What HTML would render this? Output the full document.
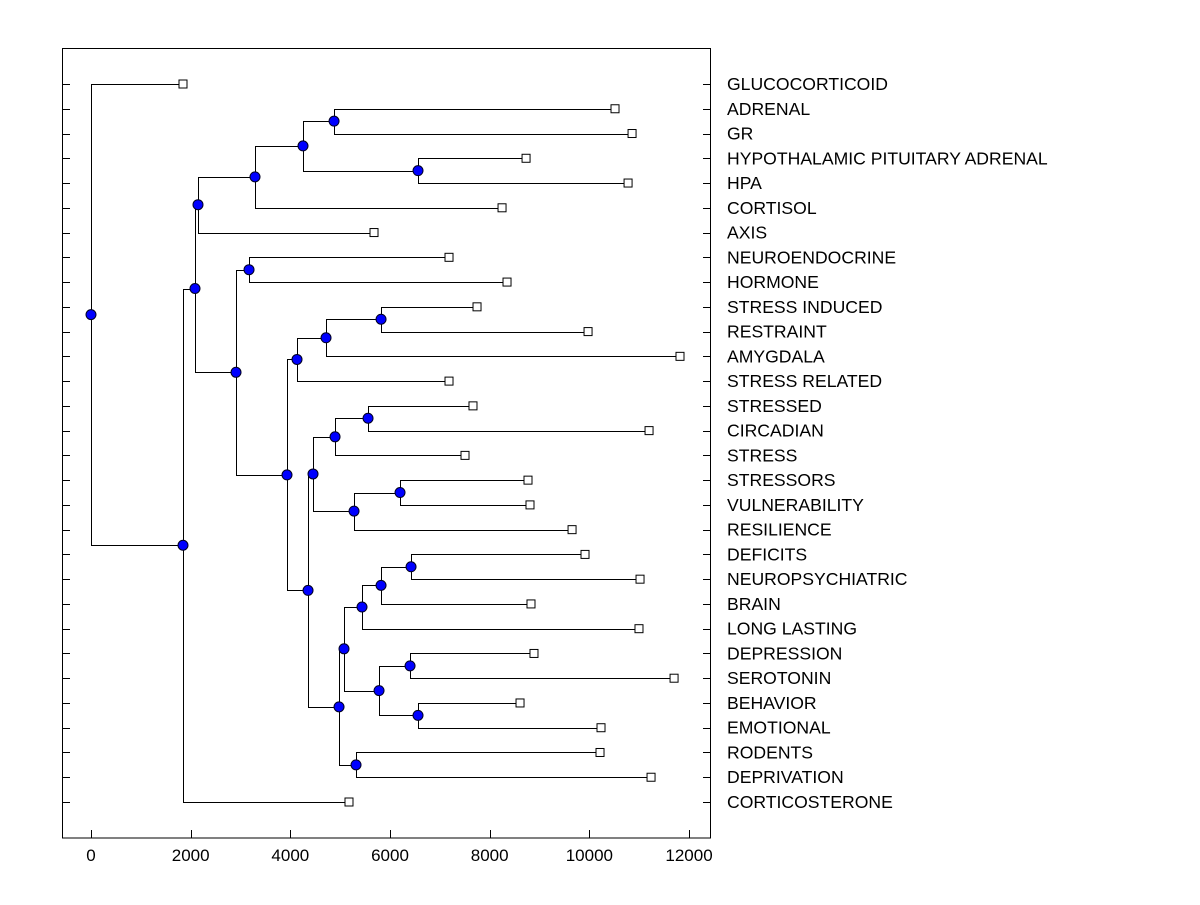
<!DOCTYPE html>
<html><head><meta charset="utf-8"><style>
body{margin:0;background:#fff;}
svg text{font-family:"Liberation Sans",Arial,sans-serif;}
</style></head><body>
<svg id="chart" width="1200" height="900"></svg>
<script>
const leafNames = ["GLUCOCORTICOID","ADRENAL","GR","HYPOTHALAMIC PITUITARY ADRENAL","HPA","CORTISOL","AXIS","NEUROENDOCRINE","HORMONE","STRESS INDUCED","RESTRAINT","AMYGDALA","STRESS RELATED","STRESSED","CIRCADIAN","STRESS","STRESSORS","VULNERABILITY","RESILIENCE","DEFICITS","NEUROPSYCHIATRIC","BRAIN","LONG LASTING","DEPRESSION","SEROTONIN","BEHAVIOR","EMOTIONAL","RODENTS","DEPRIVATION","CORTICOSTERONE"];
const leafValues = [1846,10515,10857,8730,10777,8248,5679,7184,8348,7746,9974,11819,7184,7665,11198,7505,8769,8809,9653,9913,11017,8829,10996,8889,11700,8609,10234,10214,11238,5177];
// internal nodes: [id, value, childA, childB]; leaves referenced by "L<index>"
const nodeIds = ["root","A","B","C","E","F","G","H","D","I","J","K","M","N","L","P","Q","S","R","T","U","V","X","Z","AA","Y","Y1","Y2","W"];
const nodeValues = [0,1846,2087,2147,3291,4254,4877,6562,2910,3171,3933,4134,4716,5820,4355,4455,4897,5559,5278,6201,4977,5077,5438,5820,6422,5780,6402,6562,5318];
const nodeChildren = [["L0","A"],["B","L29"],["C","D"],["E","L6"],["F","L5"],["G","H"],["L1","L2"],["L3","L4"],["I","J"],["L7","L8"],["K","L"],["M","L12"],["N","L11"],["L9","L10"],["P","U"],["Q","R"],["S","L15"],["L13","L14"],["T","L18"],["L16","L17"],["V","W"],["X","Y"],["Z","L22"],["AA","L21"],["L19","L20"],["Y1","Y2"],["L23","L24"],["L25","L26"],["L27","L28"]];
const xTicks = [0,2000,4000,6000,8000,10000,12000];

const NS="http://www.w3.org/2000/svg";
const svg=document.getElementById('chart');
const x0=91, pxPer=99.67/2000;
const xs=v=>x0+v*pxPer;
const rowY=i=>84+i*(802-84)/29;
function mk(tag,attrs,parent){const e=document.createElementNS(NS,tag);for(const k in attrs)e.setAttribute(k,attrs[k]);(parent||svg).appendChild(e);return e;}
const gLines=mk('g',{stroke:'#000','stroke-width':1,fill:'none'});
const gMarks=mk('g',{});
const fr=mk('rect',{x:62.5,y:48.5,width:648,height:789.5,fill:'none',stroke:'#000','stroke-width':1});


xTicks.forEach(t=>{
  const x=Math.round(xs(t))+0.5;
  const l=mk('line',{x1:x,x2:x,y1:838,y2:830,stroke:'#000'});
  
  
  const tx=mk('text',{x:xs(t),y:861,'text-anchor':'middle','font-size':17});
  tx.textContent=t;
  
  
});
leafNames.forEach((n,i)=>{
  const y=Math.round(rowY(i))+0.5;
  const a=mk('line',{x1:62,x2:70,y1:y,y2:y,stroke:'#000'});
  
  
  const b=mk('line',{x1:703,x2:711,y1:y,y2:y,stroke:'#000'});
  
  
  const t=mk('text',{x:727,y:rowY(i)+6,'font-size':17.6});
  t.textContent=n;
  
  
});
const pos={};
function place(id){
  if(pos[id])return pos[id];
  if(id[0]==='L'&&!isNaN(+id.slice(1))&&!nodeIds.includes(id)){
    const i=+id.slice(1);pos[id]={x:xs(leafValues[i]),y:rowY(i),leaf:true};return pos[id];
  }
  const k=nodeIds.indexOf(id);
  const [a,b]=nodeChildren[k];
  const pa=place(a),pb=place(b);
  pos[id]={x:xs(nodeValues[k]),y:(pa.y+pb.y)/2,leaf:false,kids:[pa,pb]};
  return pos[id];
}
place("root");
for(const id in pos){
  const p=pos[id];
  if(!p.leaf){
    const [a,b]=p.kids;
    const path=mk('path',{d:`M${a.x},${Math.round(a.y)+0.5}H${Math.round(p.x)+0.5}V${Math.round(b.y)+0.5}H${b.x}`},gLines);
    
    
  }
}
for(const id in pos){
  const p=pos[id];
  if(p.leaf){
    const r=mk('rect',{x:p.x-4,y:p.y-4,width:8,height:8,fill:'#fff',stroke:'#000'},gMarks);
    
    
  }else{
    const c=mk('circle',{cx:p.x,cy:p.y,r:5,fill:'#0000ff',stroke:'#000020','stroke-width':1},gMarks);
    
    
  }
}
</script>
</body></html>
